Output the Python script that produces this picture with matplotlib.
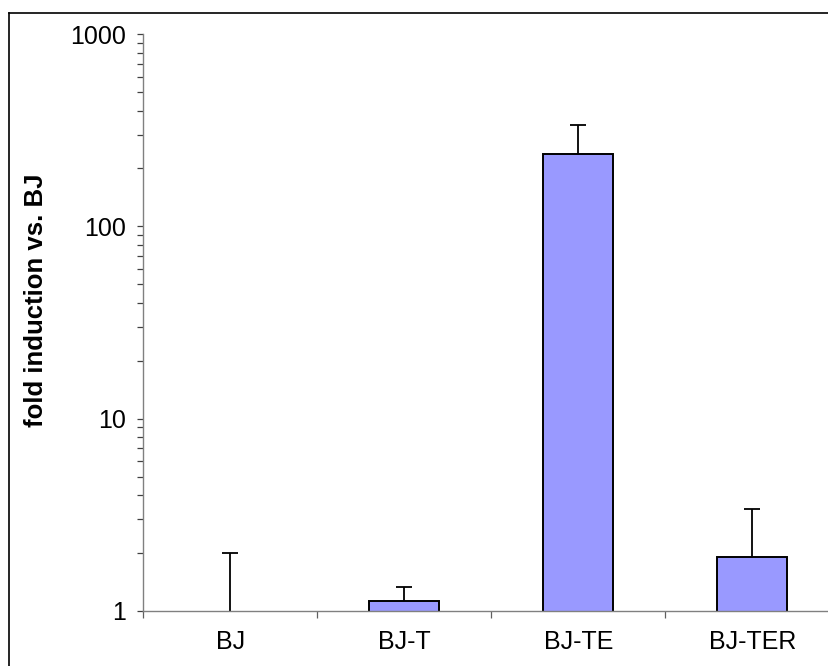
import matplotlib
matplotlib.use("Agg")
import matplotlib.pyplot as plt
from matplotlib.lines import Line2D
from matplotlib.ticker import FixedLocator, NullFormatter, FixedFormatter

categories = ["BJ", "BJ-T", "BJ-TE", "BJ-TER"]
values = [1.0, 1.13, 238.0, 1.92]
errors_up = [1.0, 0.21, 100.0, 1.47]
ytick_values = [1, 10, 100, 1000]
ytick_labels = ["1", "10", "100", "1000"]

plt.rcParams['font.family'] = ['Liberation Sans', 'DejaVu Sans']

W, H = 829, 666
fig = plt.figure(figsize=(W / 100, H / 100), dpi=100)
fig.patch.set_facecolor("white")

left, right, top, bottom = 143.3, 143.3 + 4 * 174, 34, 611
ax = fig.add_axes([left / W, (H - bottom) / H, (right - left) / W, (bottom - top) / H])
ax.set_yscale("log")

x = list(range(len(categories)))
ax.set_ylim(1, 1000)
edge_widths = [0 if v <= 1 else 1.4 for v in values]
ax.bar(x, values, width=0.40, color="#9999FF", edgecolor="black", linewidth=edge_widths, zorder=2)
eb = ax.errorbar(x, values, yerr=[[0] * len(values), errors_up], fmt="none", ecolor="black",
                 elinewidth=1.3, capsize=5.5, capthick=1.3, zorder=3)
# hide the lower caps (only upward error bars in the original)
caplines = eb[1]
if len(caplines) >= 2:
    caplines[0].set_visible(False)

ax.set_ylim(1, 1000)
ax.set_xlim(-0.5, len(categories) - 0.5)

# y ticks
ax.yaxis.set_major_locator(FixedLocator(ytick_values))
ax.yaxis.set_major_formatter(FixedFormatter(ytick_labels))
ax.yaxis.set_minor_formatter(NullFormatter())
ax.tick_params(axis="y", which="both", direction="out", length=4.5, width=0.9,
               color="#404040", labelsize=18, pad=8)

# x ticks: marks at boundaries, labels at centers
ax.xaxis.set_major_locator(FixedLocator([i - 0.5 for i in range(len(categories) + 1)]))
ax.xaxis.set_major_formatter(NullFormatter())
ax.xaxis.set_minor_locator(FixedLocator(x))
ax.xaxis.set_minor_formatter(FixedFormatter(categories))
ax.tick_params(axis="x", which="major", direction="out", length=5, width=0.9, color="#606060")
ax.tick_params(axis="x", which="minor", length=0, labelsize=18, pad=14)

for s in ["top", "right"]:
    ax.spines[s].set_visible(False)
for s in ["left", "bottom"]:
    ax.spines[s].set_color("#808080")
    ax.spines[s].set_linewidth(1.0)
    ax.spines[s].set_zorder(4)

ax.set_ylabel("fold induction vs. BJ", fontsize=18.5, fontweight="bold")
ax.yaxis.set_label_coords(-(left - 36) / (right - left), (bottom - 300) / (bottom - top))
ax.yaxis.label.set_va("center")

# outer frame (chart area border)
fig.add_artist(Line2D([9.5 / W, 9.5 / W], [0, (H - 12.5) / H], transform=fig.transFigure,
                      color="black", linewidth=1.2))
fig.add_artist(Line2D([9.5 / W, 1], [(H - 12.5) / H, (H - 12.5) / H], transform=fig.transFigure,
                      color="black", linewidth=1.2))

fig.savefig("out.png", dpi=100, facecolor="white")
